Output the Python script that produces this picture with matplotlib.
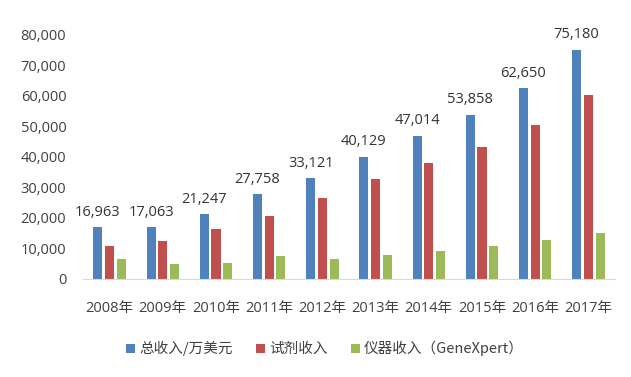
import matplotlib
matplotlib.use("Agg")
import matplotlib.pyplot as plt
import numpy as np
from matplotlib.ticker import FuncFormatter

years = ["2008年", "2009年", "2010年", "2011年", "2012年", "2013年", "2014年", "2015年", "2016年", "2017年"]
total = [16963, 17063, 21247, 27758, 33121, 40129, 47014, 53858, 62650, 75180]
reagent = [10800, 12450, 16300, 20550, 26650, 32700, 38100, 43300, 50400, 60400]
instrument = [6450, 4900, 5250, 7450, 6550, 7750, 9200, 10800, 12700, 15100]
series_names = ["总收入/万美元", "试剂收入", "仪器收入（GeneXpert）"]
colors = ["#4F81BD", "#C0504D", "#9BBB59"]

plt.rcParams['font.family'] = ['Open Sans', 'Noto Sans CJK SC', 'DejaVu Sans']

fig = plt.figure(figsize=(6.31, 3.77), dpi=100)
ax = fig.add_axes([83/631, 1-279/377, 532/631, 244/377])

x = np.arange(len(years))
w = 0.17
step = 0.22
for i, (vals, name, c) in enumerate(zip([total, reagent, instrument], series_names, colors)):
    ax.bar(x + (i - 1) * step, vals, width=w, color=c, label=name)

for xi, v in zip(x, total):
    ax.text(xi - step, v + 2400, f"{v:,}", ha='center', va='bottom', fontsize=10.5, color='#333333',
            family=['Open Sans', 'DejaVu Sans'])

ax.set_xlim(-0.5, len(years) - 0.5)
ax.set_ylim(0, 80000)
ax.set_yticks(range(0, 80001, 10000))
ax.yaxis.set_major_formatter(FuncFormatter(lambda v, p: f"{int(v):,}"))
ax.set_xticks(x)
ax.set_xticklabels(years, family=['Open Sans', 'Noto Sans CJK SC'])
for s in ['top', 'right', 'left']:
    ax.spines[s].set_visible(False)
ax.spines['bottom'].set_color('#D9D9D9')
ax.tick_params(axis='both', length=0, labelsize=10.5, colors='#404040')
ax.tick_params(axis='y', pad=12)
ax.tick_params(axis='x', pad=16)

leg = ax.legend(loc='upper center', bbox_to_anchor=(0.455, -0.2), ncol=3, frameon=False,
                handlelength=0.6, handleheight=0.6, handletextpad=0.3,
                columnspacing=1.6, prop={'family': ['Noto Sans CJK SC', 'DejaVu Sans'], 'size': 10.5})
for t in leg.get_texts():
    t.set_color('#404040')

fig.savefig("out.png", dpi=100)
